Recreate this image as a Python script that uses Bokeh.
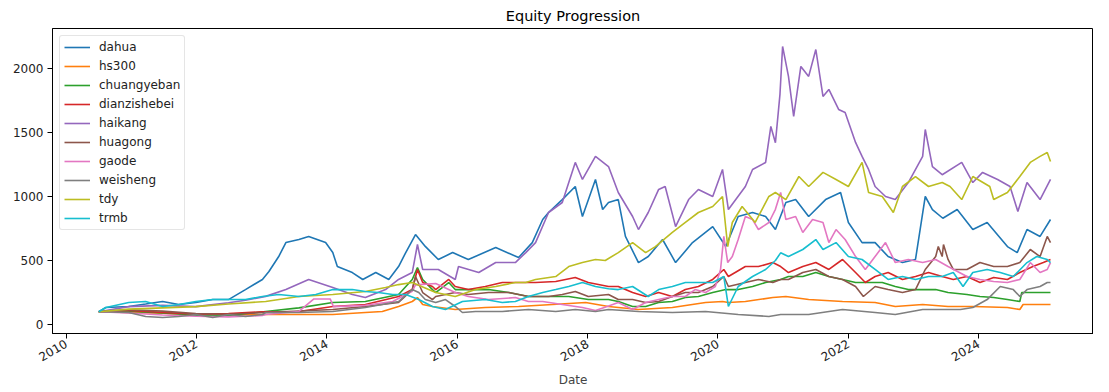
import math
import pandas as pd
from bokeh.plotting import figure
from bokeh.models import Range1d, FixedTicker, DatetimeTickFormatter, ColumnDataSource
from bokeh.embed import file_html
from bokeh.resources import INLINE

# (decimal year, value) readings per series
dahua = [(2010.50,100),(2010.61,133),(2010.96,141),(2011.22,160),(2011.48,180),(2011.73,156),(2011.99,172),
         (2012.25,195),(2012.49,195),(2012.75,273),(2013.01,352),(2013.11,414),(2013.26,531),(2013.37,640),
         (2013.57,664),(2013.72,688),(2013.98,640),(2014.09,562),(2014.16,453),(2014.39,406),(2014.55,352),
         (2014.75,406),(2014.95,352),(2015.10,453),(2015.21,562),(2015.36,703),(2015.51,610),(2015.71,508),
         (2015.93,562),(2016.17,508),(2016.59,601),(2016.94,523),(2017.15,640),(2017.31,820),(2017.40,875),
         (2017.61,976),(2017.81,1078),(2017.92,844),(2018.12,1133),(2018.23,898),(2018.32,953),(2018.47,976),
         (2018.58,688),(2018.78,484),(2018.93,531),(2019.15,664),(2019.35,484),(2019.61,640),(2019.92,765),
         (2020.12,609),(2020.31,844),(2020.53,875),(2020.73,844),(2020.88,742),(2021.04,953),(2021.19,976),
         (2021.39,844),(2021.65,976),(2021.88,1031),(2022.00,797),(2022.21,640),(2022.41,640),(2022.61,531),
         (2022.83,484),(2023.03,508),(2023.18,1000),(2023.29,898),(2023.45,830),(2023.67,898),(2023.91,742),
         (2024.13,797),(2024.44,609),(2024.59,562),(2024.74,742),(2024.94,688),(2025.10,820)]

hs300 = [(2010.50,100),(2010.96,95),(2011.48,88),(2011.99,72),(2012.49,75),(2013.06,78),(2014.09,78),
         (2014.59,94),(2014.85,102),(2015.10,141),(2015.31,180),(2015.39,211),(2015.47,156),(2015.62,141),
         (2015.97,117),(2016.43,133),(2016.94,141),(2017.46,156),(2017.97,172),(2018.32,141),(2018.78,117),
         (2019.30,133),(2019.81,172),(2020.07,180),(2020.16,172),(2020.42,180),(2020.84,211),(2021.04,219),
         (2021.39,195),(2021.91,180),(2022.41,172),(2022.72,141),(2023.14,156),(2023.53,141),(2023.91,141),
         (2024.44,133),(2024.63,117),(2024.68,156),(2025.10,156)]

chuangyeban = [(2010.50,100),(2010.96,105),(2011.48,90),(2011.99,72),(2012.49,70),(2013.06,102),(2013.57,130),
               (2014.09,172),(2014.59,180),(2015.10,234),(2015.31,352),(2015.39,445),(2015.47,352),(2015.62,273),
               (2015.67,250),(2015.87,328),(2015.97,273),(2016.17,273),(2016.48,273),(2016.79,250),(2017.09,219),
               (2017.40,219),(2017.71,219),(2018.01,195),(2018.32,195),(2018.47,180),(2018.69,141),(2018.89,141),
               (2019.09,172),(2019.30,180),(2019.50,211),(2019.70,219),(2019.92,250),(2020.12,273),(2020.31,273),
               (2020.53,297),(2020.73,328),(2020.96,352),(2021.08,375),(2021.30,375),(2021.50,406),(2021.70,375),
               (2021.91,352),(2022.11,328),(2022.31,328),(2022.52,328),(2022.72,297),(2022.92,273),(2023.14,273),
               (2023.34,273),(2023.53,250),(2023.82,234),(2024.02,219),(2024.23,211),(2024.44,195),(2024.63,180),
               (2024.66,250),(2024.83,250),(2025.10,250)]

dianzishebei = [(2010.50,100),(2010.96,110),(2011.48,95),(2011.99,80),(2012.49,85),(2013.01,100),(2013.57,102),
                (2014.09,141),(2014.59,156),(2015.10,219),(2015.31,273),(2015.39,430),(2015.47,328),(2015.62,297),
                (2015.67,273),(2015.87,352),(2015.97,297),(2016.17,273),(2016.43,297),(2016.69,328),(2016.89,328),
                (2017.20,328),(2017.51,336),(2017.81,367),(2018.01,328),(2018.32,297),(2018.47,297),(2018.69,250),
                (2018.89,219),(2019.09,250),(2019.30,219),(2019.50,273),(2019.70,297),(2019.92,352),(2020.09,430),
                (2020.16,375),(2020.42,453),(2020.62,453),(2020.84,484),(2020.96,453),(2021.08,406),(2021.30,453),
                (2021.50,484),(2021.70,430),(2021.91,508),(2022.11,406),(2022.26,328),(2022.41,375),(2022.61,406),
                (2022.83,352),(2023.03,375),(2023.23,406),(2023.44,375),(2023.61,352),(2023.82,375),(2024.02,328),
                (2024.23,367),(2024.44,352),(2024.63,406),(2024.83,453),(2024.99,484),(2025.10,508)]

haikang = [(2010.50,100),(2010.96,140),(2011.48,150),(2011.99,140),(2012.49,170),(2012.75,190),(2013.06,220),
           (2013.37,273),(2013.72,352),(2014.09,289),(2014.39,234),(2014.59,211),(2014.90,273),(2015.10,352),
           (2015.31,406),(2015.39,625),(2015.47,430),(2015.71,430),(2015.97,352),(2016.02,453),(2016.33,406),
           (2016.59,484),(2016.89,484),(2017.05,562),(2017.20,640),(2017.40,875),(2017.61,953),(2017.81,1266),
           (2017.92,1133),(2018.12,1313),(2018.32,1234),(2018.47,1031),(2018.69,844),(2018.78,742),(2018.93,875),
           (2019.09,1055),(2019.19,1078),(2019.35,765),(2019.55,976),(2019.70,1055),(2019.92,1000),(2020.07,1211),
           (2020.16,898),(2020.42,1078),(2020.53,1211),(2020.73,1266),(2020.81,1547),(2020.88,1420),(2020.95,1800),
           (2020.99,2172),(2021.08,1938),(2021.16,1625),(2021.27,2016),(2021.39,1938),(2021.50,2148),(2021.61,1781),
           (2021.70,1836),(2021.85,1680),(2021.95,1656),(2022.11,1422),(2022.21,1313),(2022.31,1211),(2022.41,1078),
           (2022.57,1000),(2022.72,976),(2022.92,1109),(2023.14,1313),(2023.18,1523),(2023.29,1234),(2023.44,1170),
           (2023.74,1266),(2023.91,1109),(2024.06,1188),(2024.29,1133),(2024.48,1078),(2024.60,883),(2024.74,1109),
           (2024.94,976),(2025.10,1133)]

huagong = [(2010.50,100),(2010.96,115),(2011.48,105),(2011.99,85),(2012.49,80),(2013.06,94),(2014.09,117),
           (2014.59,141),(2015.10,172),(2015.31,273),(2015.36,375),(2015.47,250),(2015.62,195),(2015.67,219),
           (2015.97,250),(2016.17,234),(2016.48,250),(2016.79,250),(2017.09,219),(2017.40,219),(2017.61,234),
           (2017.81,258),(2018.01,219),(2018.32,234),(2018.47,195),(2018.69,195),(2018.89,172),(2019.09,180),
           (2019.30,219),(2019.50,250),(2019.70,250),(2019.92,297),(2020.09,375),(2020.16,297),(2020.42,328),
           (2020.62,352),(2020.84,328),(2020.96,352),(2021.08,352),(2021.30,406),(2021.50,430),(2021.70,375),
           (2021.91,352),(2022.11,297),(2022.23,219),(2022.41,297),(2022.61,273),(2022.83,250),(2023.03,273),
           (2023.18,430),(2023.34,531),(2023.38,609),(2023.44,531),(2023.46,625),(2023.53,508),(2023.61,430),
           (2023.82,430),(2024.02,484),(2024.23,453),(2024.44,453),(2024.63,484),(2024.79,586),(2024.94,531),
           (2025.05,688),(2025.10,640)]

gaode = [(2010.50,100),(2010.96,90),(2011.48,75),(2011.99,65),(2012.49,60),(2013.01,70),(2013.06,78),
         (2013.57,102),(2013.80,200),(2014.05,200),(2014.10,140),(2014.59,150),(2015.01,180),(2015.31,260),
         (2015.36,310),(2015.67,320),(2015.97,250),(2016.17,219),(2016.48,195),(2016.89,211),(2017.09,180),
         (2017.31,180),(2017.61,156),(2017.92,133),(2018.12,110),(2018.30,140),(2018.47,172),(2018.69,117),
         (2018.89,172),(2019.09,195),(2019.30,219),(2019.50,219),(2019.65,273),(2019.81,250),(2019.96,297),
         (2020.04,430),(2020.09,688),(2020.15,484),(2020.22,531),(2020.31,664),(2020.42,844),(2020.53,820),
         (2020.62,742),(2020.78,797),(2020.88,900),(2020.96,1031),(2021.04,820),(2021.19,844),(2021.30,719),
         (2021.45,820),(2021.61,797),(2021.70,640),(2021.81,742),(2021.95,664),(2022.11,531),(2022.26,430),
         (2022.41,531),(2022.57,640),(2022.72,484),(2022.92,508),(2023.14,484),(2023.34,508),(2023.53,453),
         (2023.82,375),(2024.02,352),(2024.23,336),(2024.44,328),(2024.63,352),(2024.79,484),(2024.94,406),
         (2025.05,430),(2025.10,484)]

weisheng = [(2010.50,100),(2010.96,94),(2011.22,63),(2011.48,55),(2011.73,63),(2011.99,78),(2012.25,55),
            (2012.49,78),(2012.75,63),(2013.01,78),(2013.06,94),(2013.57,94),(2014.09,102),(2014.59,133),
            (2015.10,180),(2015.31,273),(2015.41,250),(2015.51,195),(2015.67,172),(2015.82,195),(2015.97,141),
            (2016.08,94),(2016.28,102),(2016.69,102),(2017.09,117),(2017.51,102),(2017.81,117),(2018.12,102),
            (2018.32,117),(2018.78,102),(2019.30,94),(2019.81,102),(2020.31,78),(2020.78,63),(2020.96,78),
            (2021.39,78),(2021.91,117),(2022.41,94),(2022.72,78),(2023.14,117),(2023.53,117),(2023.72,117),
            (2023.91,133),(2024.13,195),(2024.33,297),(2024.53,273),(2024.63,219),(2024.74,273),(2024.94,297),
            (2025.05,328),(2025.10,328)]

tdy = [(2010.50,100),(2010.96,120),(2011.48,130),(2011.99,140),(2012.49,160),(2013.06,180),(2013.57,219),
       (2014.09,234),(2014.59,258),(2014.90,289),(2015.10,312),(2015.31,328),(2015.67,250),(2015.97,219),
       (2016.28,273),(2016.59,297),(2016.89,328),(2017.05,328),(2017.20,352),(2017.51,375),(2017.71,453),
       (2017.92,484),(2018.12,508),(2018.27,500),(2018.47,562),(2018.69,640),(2018.89,562),(2019.04,609),
       (2019.30,719),(2019.50,797),(2019.70,875),(2019.92,922),(2020.07,1000),(2020.15,609),(2020.22,797),
       (2020.37,922),(2020.57,797),(2020.78,1000),(2020.88,1031),(2021.04,976),(2021.24,1156),(2021.39,1078),
       (2021.61,1188),(2021.81,1133),(2022.00,1078),(2022.21,1266),(2022.31,1031),(2022.52,1000),(2022.69,875),
       (2022.83,1078),(2023.03,1156),(2023.23,1078),(2023.44,1109),(2023.56,1078),(2023.74,976),(2023.91,1156),
       (2024.17,1078),(2024.23,976),(2024.44,1031),(2024.63,1156),(2024.79,1266),(2024.94,1313),(2025.05,1344),
       (2025.10,1273)]

trmb = [(2010.50,100),(2010.61,133),(2010.96,172),(2011.22,180),(2011.48,141),(2011.73,156),(2011.99,180),
        (2012.25,195),(2012.49,195),(2012.75,195),(2013.01,219),(2013.26,234),(2013.57,219),(2013.83,234),
        (2014.09,273),(2014.39,273),(2014.59,258),(2014.79,250),(2015.01,234),(2015.21,234),(2015.41,195),
        (2015.62,141),(2015.82,117),(2016.08,180),(2016.43,195),(2016.69,172),(2016.89,180),(2017.09,219),
        (2017.31,250),(2017.51,273),(2017.71,297),(2017.92,328),(2018.12,297),(2018.32,280),(2018.47,273),
        (2018.69,297),(2018.93,219),(2019.09,273),(2019.30,297),(2019.50,328),(2019.70,328),(2019.92,328),
        (2020.09,375),(2020.16,141),(2020.31,297),(2020.53,375),(2020.73,430),(2020.88,500),(2020.96,560),
        (2021.08,531),(2021.30,586),(2021.50,664),(2021.61,586),(2021.81,640),(2022.00,531),(2022.21,508),
        (2022.41,430),(2022.61,352),(2022.83,375),(2023.03,352),(2023.23,375),(2023.44,375),(2023.61,406),
        (2023.76,297),(2023.91,406),(2024.13,430),(2024.33,406),(2024.53,375),(2024.74,484),(2024.89,531),
        (2025.05,508),(2025.10,484)]

series_names = ["dahua", "hs300", "chuangyeban", "dianzishebei", "haikang",
                "huagong", "gaode", "weisheng", "tdy", "trmb"]
series_data = [dahua, hs300, chuangyeban, dianzishebei, haikang,
               huagong, gaode, weisheng, tdy, trmb]
colors = ["#1f77b4", "#ff7f0e", "#2ca02c", "#d62728", "#9467bd",
          "#8c564b", "#e377c2", "#7f7f7f", "#bcbd22", "#17becf"]
tick_years = [2010, 2012, 2014, 2016, 2018, 2020, 2022, 2024]


def to_dt(y):
    yi = int(math.floor(y))
    start = pd.Timestamp(yi, 1, 1)
    end = pd.Timestamp(yi + 1, 1, 1)
    return start + (end - start) * (y - yi)


FONT = "DejaVu Sans"

p = figure(
    output_backend="svg", toolbar_location=None,
    frame_width=1041, frame_height=305,
    min_border_left=52, min_border_right=0, min_border_top=21, min_border_bottom=50,
    x_axis_type="datetime",
    x_range=Range1d(to_dt(2009.79), to_dt(2025.76)),
    y_range=Range1d(-70, 2312),
    title="Equity Progression",
)

for name, data, c in zip(series_names, series_data, colors):
    src = ColumnDataSource(dict(x=[to_dt(t) for t, _ in data], y=[v for _, v in data]))
    p.line("x", "y", source=src, color=c, line_width=1.6, legend_label=name)

p.title.align = "center"
p.title.text_font = FONT
p.title.text_font_size = "14.5px"
p.title.text_font_style = "normal"
p.title.text_color = "black"

p.xgrid.visible = False
p.ygrid.visible = False
p.outline_line_color = "black"
p.outline_line_width = 1
p.background_fill_color = "white"
p.border_fill_color = "white"

p.xaxis.ticker = FixedTicker(ticks=[pd.Timestamp(y, 1, 1).value // 10**6 for y in tick_years])
p.xaxis.formatter = DatetimeTickFormatter(years="%Y", months="%Y", days="%Y", hours="%Y")
p.xaxis.major_label_orientation = math.pi / 6
p.xaxis.axis_label = "Date"

p.yaxis.ticker = FixedTicker(ticks=[0, 500, 1000, 1500, 2000])

for ax in (p.xaxis[0], p.yaxis[0]):
    ax.axis_line_color = "black"
    ax.major_tick_line_color = "black"
    ax.major_tick_out = 5
    ax.major_tick_in = 0
    ax.minor_tick_line_color = None
    ax.major_label_text_font = FONT
    ax.major_label_text_font_size = "12px"
    ax.major_label_text_color = "#222222"
    ax.major_label_standoff = 4
    ax.axis_label_text_font = FONT
    ax.axis_label_text_font_size = "12px"
    ax.axis_label_text_font_style = "normal"
    ax.axis_label_standoff = 4

lg = p.legend[0]
lg.location = "top_left"
lg.margin = 7
lg.padding = 4
lg.spacing = 5
lg.label_height = 14
lg.glyph_height = 14
lg.glyph_width = 26
lg.label_standoff = 9
lg.label_text_font = FONT
lg.label_text_font_size = "12px"
lg.label_text_color = "#222222"
lg.border_line_color = "#cccccc"
lg.border_line_width = 1
lg.border_radius = 3
lg.background_fill_alpha = 0.8

open("out.html", "w").write(file_html(p, INLINE))
